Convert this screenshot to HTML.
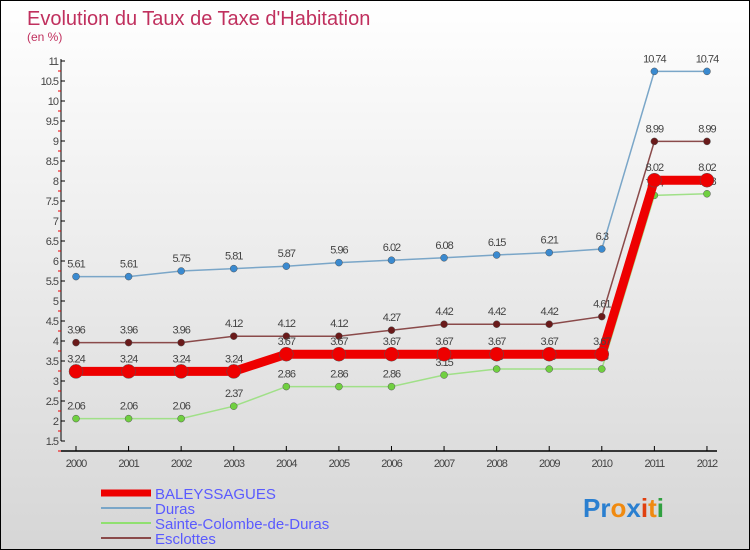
<!DOCTYPE html>
<html><head><meta charset="utf-8"><style>
body{margin:0}
#wrap{position:relative;width:748px;height:548px;border:1px solid #000;background:linear-gradient(#fff,#d6d6d6);font-family:"Liberation Sans",sans-serif;overflow:hidden}
</style></head><body>
<div id="wrap">
<svg id="svg" width="748" height="548">
<text x="26" y="24" font-size="20" fill="#c0305e">Evolution du Taux de Taxe d'Habitation</text>
<text x="26" y="40" font-size="12" fill="#c0305e">(en %)</text>
<g id="axes"></g><g id="series"></g>
<g>
<line x1="100" y1="492" x2="150" y2="492" stroke="#e00" stroke-width="7"/>
<text x="154" y="498" font-size="15" fill="#5a5aff">BALEYSSAGUES</text>
<line x1="100" y1="507" x2="150" y2="507" stroke="#7aa6c8" stroke-width="2"/>
<text x="154" y="513" font-size="15" fill="#5a5aff">Duras</text>
<line x1="100" y1="522" x2="150" y2="522" stroke="#90e070" stroke-width="2"/>
<text x="154" y="528" font-size="15" fill="#5a5aff">Sainte-Colombe-de-Duras</text>
<line x1="100" y1="537" x2="150" y2="537" stroke="#8a4a4a" stroke-width="2"/>
<text x="154" y="543" font-size="15" fill="#5a5aff">Esclottes</text>
</g>
<text x="582" y="516" font-size="26" font-weight="bold"><tspan fill="#2a7fd0">Pr</tspan><tspan fill="#f08a10">o</tspan><tspan fill="#2a7fd0">x</tspan><tspan fill="#e04010">i</tspan><tspan fill="#f08a10">t</tspan><tspan fill="#30a040">i</tspan></text>
</svg></div>
<script>
const years=[2000,2001,2002,2003,2004,2005,2006,2007,2008,2009,2010,2011,2012];
const baleyssagues=[3.24,3.24,3.24,3.24,3.67,3.67,3.67,3.67,3.67,3.67,3.67,8.02,8.02];
const duras=[5.61,5.61,5.75,5.81,5.87,5.96,6.02,6.08,6.15,6.21,6.3,10.74,10.74];
const sainteColombe=[2.06,2.06,2.06,2.37,2.86,2.86,2.86,3.15,3.3,3.3,3.3,7.64,7.68];
const esclottes=[3.96,3.96,3.96,4.12,4.12,4.12,4.27,4.42,4.42,4.42,4.61,8.99,8.99];
const yTicks=[1.5,2,2.5,3,3.5,4,4.5,5,5.5,6,6.5,7,7.5,8,8.5,9,9.5,10,10.5,11];
const NS="http://www.w3.org/2000/svg";
const X=i=>75+i*52.58, Y=v=>60+(11-v)*40;
function mk(t,a,p){const e=document.createElementNS(NS,t);for(const k in a)e.setAttribute(k,a[k]);p.appendChild(e);return e;}
const ax=document.getElementById('axes'), sg=document.getElementById('series');
const yl=mk('line',{x1:60,y1:58,x2:60,y2:440,stroke:'#000'},ax);


const xl=mk('line',{x1:60,y1:450,x2:716,y2:450,stroke:'#000','stroke-width':1.5},ax);


yTicks.forEach(v=>{
  mk('line',{x1:60,y1:Y(v),x2:64,y2:Y(v),stroke:'#000'},ax);
  mk('line',{x1:57,y1:Y(v)+10,x2:60,y2:Y(v)+10,stroke:'#e00'},ax);
  const t=mk('text',{x:57,y:Y(v)+4,'font-size':11,fill:'#444','text-anchor':'end','letter-spacing':'-1'},ax);
  
  
  t.textContent=String(v);
});
years.forEach((y,i)=>{
  mk('line',{x1:X(i),y1:445,x2:X(i),y2:450,stroke:'#000'},ax);
  const t=mk('text',{x:X(i),y:466,'font-size':11,fill:'#444','text-anchor':'middle','letter-spacing':'-1'},ax);
  
  
  t.textContent=y;
});
function series(vals,name,col,w,r,dot){
  const g=mk('g',{},sg);
  
  
  const pl=mk('polyline',{points:vals.map((v,i)=>X(i)+','+Y(v)).join(' '),fill:'none',stroke:col,'stroke-width':w},g);
  
  
  vals.forEach((v,i)=>{
    const c=mk('circle',{cx:X(i),cy:Y(v),r:r,fill:dot,stroke:'#555','stroke-width':0.5},g);
    
    
    const t=mk('text',{x:X(i),y:Y(v)-9,'font-size':11,fill:'#444','text-anchor':'middle','letter-spacing':'-1'},g);
    
    
    t.textContent=String(v);
  });
}
series(duras,'duras','#7aa6c8',1.5,3.5,'#3a8ad0');
series(esclottes,'esclottes','#8a4a4a',1.5,3.5,'#6a1a1a');
series(sainteColombe,'sainte-colombe','#a0e088',1.5,3.5,'#70d040');
series(baleyssagues,'baleyssagues','#e00',9,7,'#e00');
</script>
</body></html>
